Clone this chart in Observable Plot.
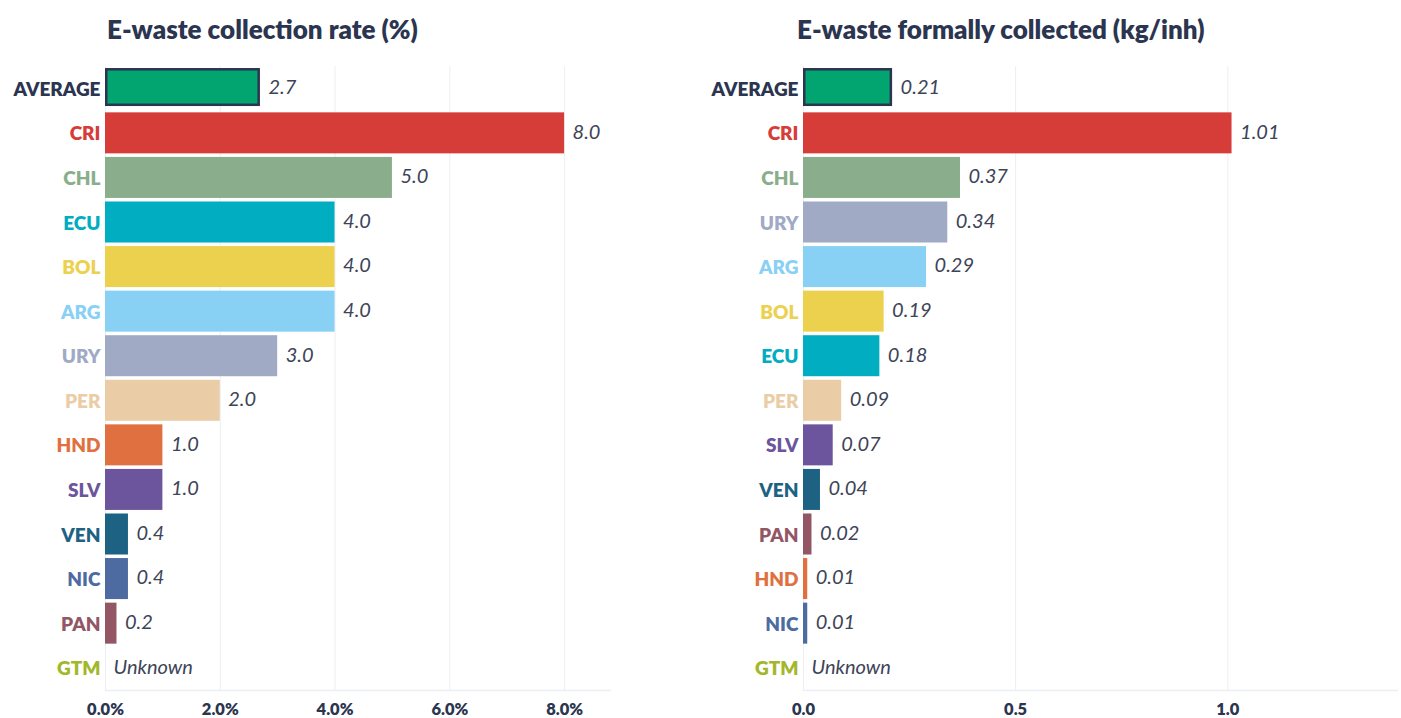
<!DOCTYPE html>
<html>
<head>
<meta charset="utf-8">
<script src="https://cdn.jsdelivr.net/npm/d3@7"></script>
<script src="https://cdn.jsdelivr.net/npm/@observablehq/plot@0.6"></script>
<style>
  html, body { margin: 0; padding: 0; background: #fff; }
  body { width: 1401px; height: 718px; position: relative; overflow: hidden; font-family: Lato, "Open Sans", sans-serif; }
  .panel { position: absolute; top: 0; }
  .title { position: absolute; top: 12px; font-size: 26px; line-height: 34px; font-weight: 800; color: #2b3550; white-space: nowrap; }
  .chart { position: absolute; top: 56px; left: 0; }
  .chart svg { display: block; }
</style>
</head>
<body>
<div class="panel" id="left" style="left:0;width:690px;height:718px">
  <div class="title" style="left:107px">E-waste collection rate (%)</div>
  <div class="chart" id="leftChart"></div>
</div>
<div class="panel" id="right" style="left:690px;width:711px;height:718px">
  <div class="title" style="left:107px">E-waste formally collected (kg/inh)</div>
  <div class="chart" id="rightChart"></div>
</div>
<script>
// ---- Data ----
const rateCategories = ["AVERAGE", "CRI", "CHL", "ECU", "BOL", "ARG", "URY", "PER", "HND", "SLV", "VEN", "NIC", "PAN", "GTM"];
const rateValues = [2.7, 8.0, 5.0, 4.0, 4.0, 4.0, 3.0, 2.0, 1.0, 1.0, 0.4, 0.4, 0.2, null];
const rateTicks = [0, 2, 4, 6, 8];

const kgCategories = ["AVERAGE", "CRI", "CHL", "URY", "ARG", "BOL", "ECU", "PER", "SLV", "VEN", "PAN", "HND", "NIC", "GTM"];
const kgValues = [0.21, 1.01, 0.37, 0.34, 0.29, 0.19, 0.18, 0.09, 0.07, 0.04, 0.02, 0.01, 0.01, null];
const kgTicks = [0, 0.5, 1.0];

const categoryColors = {
  AVERAGE: "#02a46f", CRI: "#d63c38", CHL: "#8aae8c", ECU: "#00adc1", BOL: "#ecd14e",
  ARG: "#89d0f5", URY: "#a0aac5", PER: "#eacda6", HND: "#e07040", SLV: "#6c559c",
  VEN: "#1d6282", NIC: "#4d6ba0", PAN: "#935665", GTM: "#a2b72a"
};
const labelColors = Object.assign({}, categoryColors, { AVERAGE: "#2b3550" });

const NAVY = "#2b3550";
const VALUE_COLOR = "#3d4457";
const GRID = "#eceef1";

function makeChart({categories, values, ticks, domain, width, marginLeft, marginRight, tickFormat, valueFormat}) {
  const rows = categories.map((cat, i) => ({cat, value: values[i]}));
  const known = rows.filter(d => d.value != null);
  return Plot.plot({
    width, height: 662,
    marginTop: 10, marginBottom: 28, marginLeft, marginRight,
    style: {fontFamily: "Lato, 'Open Sans', sans-serif", background: "#fff"},
    color: {type: "identity"},
    x: {domain, ticks, tickFormat},
    y: {domain: categories, paddingInner: 0.08, paddingOuter: 0.04, round: false, axis: null},
    marks: [
      Plot.gridX(ticks, {stroke: GRID, strokeOpacity: 1, strokeWidth: 1}),
      Plot.frame({anchor: "bottom", stroke: GRID, strokeOpacity: 1, strokeWidth: 1.5}),
      Plot.barX(known.filter(d => d.cat !== "AVERAGE"), {x: "value", y: "cat", fill: d => categoryColors[d.cat]}),
      Plot.barX(known.filter(d => d.cat === "AVERAGE"), {x: "value", y: "cat", fill: d => categoryColors[d.cat],
        stroke: NAVY, strokeWidth: 2.5, insetTop: 1.5, insetBottom: 4, insetLeft: 1.25, insetRight: 1.25}),
      Plot.text(rows, {x: () => 0, y: "cat", text: "cat", textAnchor: "end", dx: -5, dy: 1,
        fill: d => labelColors[d.cat], fontWeight: 800, fontSize: 19}),
      Plot.text(rows, {x: d => d.value ?? 0, y: "cat", text: d => d.value == null ? "Unknown" : valueFormat(d.value),
        textAnchor: "start", dx: 8, dy: -1, fill: VALUE_COLOR, fontStyle: "italic", fontSize: 20}),
      Plot.axisX({ticks, tickFormat, tickSize: 0, tickPadding: 13, fontWeight: 800, fontSize: 16.5, fill: NAVY, label: null})
    ]
  });
}

document.getElementById("leftChart").append(makeChart({
  categories: rateCategories, values: rateValues, ticks: rateTicks,
  domain: [0, 8.8], width: 690, marginLeft: 105, marginRight: 80,
  tickFormat: d => d.toFixed(1) + "%", valueFormat: v => v.toFixed(1)
}));

document.getElementById("rightChart").append(makeChart({
  categories: kgCategories, values: kgValues, ticks: kgTicks,
  domain: [0, 1.4], width: 711, marginLeft: 113, marginRight: 4,
  tickFormat: d => d.toFixed(1), valueFormat: v => v.toFixed(2)
}));
</script>
</body>
</html>
